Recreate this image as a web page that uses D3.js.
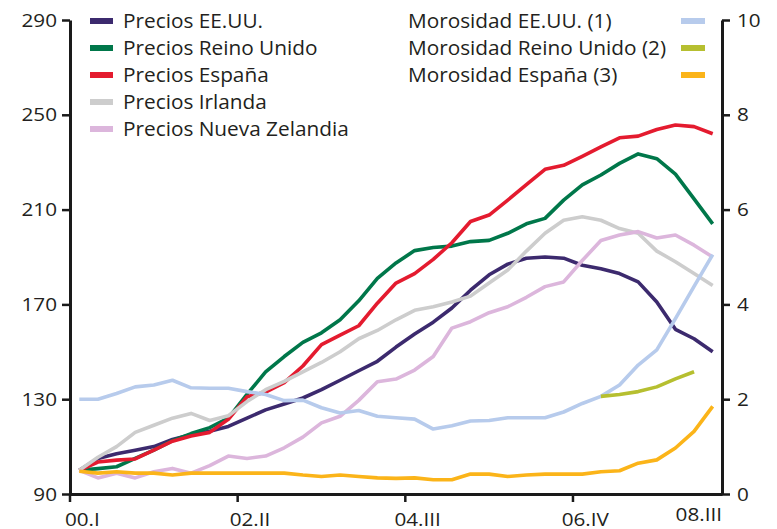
<!DOCTYPE html>
<html>
<head>
<meta charset="utf-8">
<script src="https://cdn.jsdelivr.net/npm/d3@7"></script>
<style>
  html, body { margin: 0; padding: 0; background: #fff; }
  svg text { font-family: "Open Sans", "Noto Sans", sans-serif; fill: #231f20; }
</style>
</head>
<body>
<div id="chart"></div>
<script>
// chart size + frame
const WIDTH = 777;
const HEIGHT = 529;
const MARGIN = { left: 70, right: 55, top: 20, bottom: 35 };

// quarters 2000 Q1 .. 2008 Q3
const quarters = [
  "00.I", "00.II", "00.III", "00.IV",
  "01.I", "01.II", "01.III", "01.IV",
  "02.I", "02.II", "02.III", "02.IV",
  "03.I", "03.II", "03.III", "03.IV",
  "04.I", "04.II", "04.III", "04.IV",
  "05.I", "05.II", "05.III", "05.IV",
  "06.I", "06.II", "06.III", "06.IV",
  "07.I", "07.II", "07.III", "07.IV",
  "08.I", "08.II", "08.III"
];
const tickQuarters = ["00.I", "02.II", "04.III", "06.IV", "08.III"];
const leftTicks = [90, 130, 170, 210, 250, 290];
const rightTicks = [0, 2, 4, 6, 8, 10];

// house prices (index, left axis)
const preciosEEUU = [100, 105, 107, 108.5, 110, 113, 115, 116.5, 118.5, 122, 125.5, 128, 130.5, 134, 138, 142, 146, 152, 157.5, 162.5, 168.5, 176, 182.5, 187, 189.5, 190, 189.5, 186.5, 185, 183, 179.5, 171, 159.5, 155.5, 150];
const preciosReinoUnido = [100, 100.7, 101.5, 105, 108.5, 112.5, 115.5, 118, 122, 132, 141.5, 148, 154, 158, 163.5, 171.5, 181, 187.5, 192.7, 194, 194.6, 196.5, 197, 200, 204, 206.3, 214, 220.4, 224.6, 229.5, 233.5, 231.5, 225, 214.5, 204];
const preciosEspana = [100, 103.5, 104.3, 104.8, 108.5, 112.3, 114.5, 116, 121.5, 131, 133, 137, 144, 153, 157, 161, 170.5, 179, 183, 189, 196, 205, 207.7, 214, 220.5, 227, 228.7, 232.5, 236.5, 240.3, 241, 243.8, 245.7, 245, 242];
const preciosIrlanda = [100, 105.5, 110, 116, 119, 122, 124, 121, 123, 129, 134, 137.5, 141.5, 145.5, 150, 155.5, 159, 163.5, 167.5, 169, 171, 173.5, 179, 184.5, 192.5, 200, 205.5, 207, 205.5, 202, 200, 192.5, 188, 183, 178];
const preciosNuevaZelandia = [100, 96.8, 98.8, 96.8, 99.4, 100.8, 98.8, 102, 106, 105, 106, 109.5, 114, 120, 122.8, 129.5, 137.4, 138.5, 142.3, 148, 160, 162.7, 166.5, 169, 173, 177.5, 179.5, 188.5, 197, 199.3, 200.7, 198, 199.3, 195, 190];

// arrears rates (%, right axis)
const morosidadEEUU = [2.0, 2.0, 2.12, 2.26, 2.3, 2.4, 2.24, 2.23, 2.23, 2.16, 2.1, 1.97, 1.98, 1.82, 1.71, 1.76, 1.64, 1.61, 1.58, 1.37, 1.44, 1.54, 1.55, 1.61, 1.61, 1.61, 1.73, 1.91, 2.06, 2.3, 2.72, 3.04, 3.7, 4.38, 5.05];
const morosidadReinoUnido = [null, null, null, null, null, null, null, null, null, null, null, null, null, null, null, null, null, null, null, null, null, null, null, null, null, null, null, null, 2.06, 2.1, 2.16, 2.26, 2.43, 2.58, null];
const morosidadEspana = [0.48, 0.44, 0.47, 0.44, 0.44, 0.4, 0.44, 0.44, 0.44, 0.44, 0.44, 0.44, 0.4, 0.37, 0.4, 0.37, 0.34, 0.33, 0.34, 0.3, 0.3, 0.42, 0.42, 0.37, 0.4, 0.42, 0.42, 0.42, 0.47, 0.49, 0.65, 0.72, 0.97, 1.32, 1.85];

const seriesLeft = [
  { name: "Precios EE.UU.", color: "#3c2a6e", values: preciosEEUU },
  { name: "Precios Reino Unido", color: "#00774a", values: preciosReinoUnido },
  { name: "Precios España", color: "#e41b2f", values: preciosEspana },
  { name: "Precios Irlanda", color: "#cdcdcd", values: preciosIrlanda },
  { name: "Precios Nueva Zelandia", color: "#dcb6dc", values: preciosNuevaZelandia }
];
const seriesRight = [
  { name: "Morosidad EE.UU. (1)", color: "#b7cbec", values: morosidadEEUU },
  { name: "Morosidad Reino Unido (2)", color: "#b6bf30", values: morosidadReinoUnido },
  { name: "Morosidad España (3)", color: "#fbb419", values: morosidadEspana }
];

const svg = d3.select("#chart").append("svg")
              .attr("width", WIDTH)
              .attr("height", HEIGHT);

// x: one band per quarter, ticks sit on band edges
const x = d3.scaleBand()
            .domain(quarters)
            .range([MARGIN.left, WIDTH - MARGIN.right])
            .paddingInner(0)
            .paddingOuter(0);
const xMid = q => x(q) + x.bandwidth() / 2;

const yLeft = d3.scaleLinear()
                .domain([90, 290])
                .range([HEIGHT - MARGIN.bottom, MARGIN.top]);

const yRight = d3.scaleLinear()
                 .domain([0, 10])
                 .range([HEIGHT - MARGIN.bottom, MARGIN.top]);

/**
 * text stretched a bit in x, the source art is squashed vertically
 */
function label(g, str, px, py, anchor, size, sx)
{
    return g.append("text")
            .attr("transform", `translate(${px},${py}) scale(${sx},1)`)
            .attr("text-anchor", anchor)
            .attr("font-size", size + "px")
            .text(str);
}

// lines
const lineLeft = d3.line()
                   .defined(d => d != null)
                   .x((d, i) => xMid(quarters[i]))
                   .y(d => yLeft(d));

const lineRight = d3.line()
                    .defined(d => d != null)
                    .x((d, i) => xMid(quarters[i]))
                    .y(d => yRight(d));

const plot = svg.append("g").attr("class", "lines");

seriesLeft.forEach(s => {
    plot.append("path")
        .attr("d", lineLeft(s.values))
        .attr("fill", "none")
        .attr("stroke", s.color)
        .attr("stroke-width", 3.6)
        .attr("stroke-linejoin", "round");
});

seriesRight.forEach(s => {
    plot.append("path")
        .attr("d", lineRight(s.values))
        .attr("fill", "none")
        .attr("stroke", s.color)
        .attr("stroke-width", 3.6)
        .attr("stroke-linejoin", "round");
});

// axes
function styleAxis(g)
{
    g.select(".domain").attr("stroke", "#1a1a1a").attr("stroke-width", 3);
    g.selectAll(".tick line").attr("stroke", "#1a1a1a").attr("stroke-width", 2.5);
    g.selectAll(".tick text").remove();
}

svg.append("g")
   .attr("transform", `translate(${MARGIN.left},0)`)
   .call(d3.axisLeft(yLeft).tickValues(leftTicks).tickSize(8).tickSizeOuter(0))
   .call(styleAxis);

svg.append("g")
   .attr("transform", `translate(${WIDTH - MARGIN.right},0)`)
   .call(d3.axisRight(yRight).tickValues(rightTicks).tickSize(8).tickSizeOuter(0))
   .call(styleAxis);

const xAxis = svg.append("g")
                 .attr("transform", `translate(0,${HEIGHT - MARGIN.bottom})`)
                 .call(d3.axisBottom(x).tickValues(tickQuarters.slice(0, 4)).tickSize(8).tickSizeOuter(0))
                 .call(styleAxis);
// move ticks from band centre to band start
xAxis.selectAll(".tick").attr("transform", d => `translate(${x(d)},0)`);

// tick labels
const labels = svg.append("g");
leftTicks.forEach(v => label(labels, v, 57, yLeft(v) + 6.5, "end", 18, 1.15));
rightTicks.forEach(v => label(labels, v, 737, yRight(v) + 6.5, "start", 18, 1.15));
tickQuarters.forEach((q, i) => {
    if (i < tickQuarters.length - 1)
        label(labels, q, xMid(q) + 3, 526, "middle", 18, 1.15);
    else
        label(labels, q, WIDTH - MARGIN.right, 521, "end", 18, 1.15);
});

// legends
const legend = svg.append("g").attr("class", "legend");
seriesLeft.forEach((s, i) => {
    const ry = 21 + i * 27;
    legend.append("rect")
          .attr("x", 90).attr("y", ry - 3)
          .attr("width", 23).attr("height", 6)
          .attr("fill", s.color);
    label(legend, s.name, 123, ry + 7, "start", 20, 1.04);
});
seriesRight.forEach((s, i) => {
    const ry = 21 + i * 27;
    legend.append("rect")
          .attr("x", 681).attr("y", ry - 3)
          .attr("width", 24).attr("height", 6)
          .attr("fill", s.color);
    label(legend, s.name, 408, ry + 7, "start", 20, 1.04);
});
</script>
</body>
</html>
